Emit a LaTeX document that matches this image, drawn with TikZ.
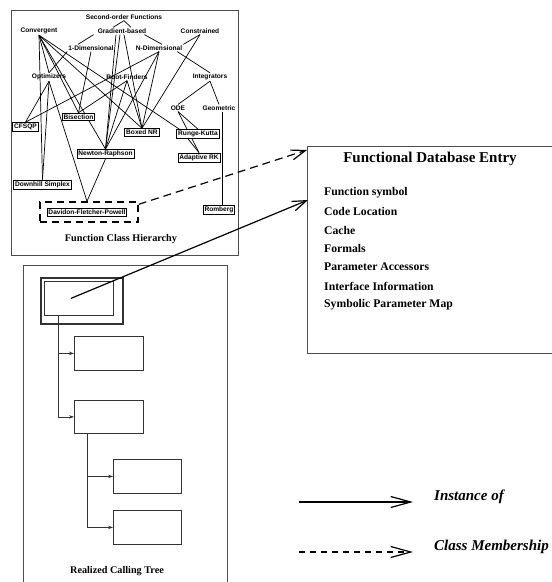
\documentclass[tikz,border=0pt]{standalone}
\usepackage{fontspec}
\setmainfont{Liberation Serif}
\setsansfont{Liberation Sans}
\usetikzlibrary{arrows.meta,calc}
\pgfdeclarelayer{bg}
\pgfsetlayers{bg,main}

\begin{document}
\begin{tikzpicture}[x=1pt,y=-1pt,
  lab/.style={font=\sffamily\bfseries\fontsize{6.6}{7.5}\selectfont, inner sep=1pt},
  leaf/.style={lab, draw=black, fill=white, line width=0.9pt, inner sep=1.4pt},
  edge/.style={line width=0.7pt, black},
  frame/.style={draw=black!70, line width=0.9pt},
  captext/.style={font=\bfseries\fontsize{10.2}{12}\selectfont},
  item/.style={font=\bfseries\fontsize{11.7}{14}\selectfont, anchor=west, inner sep=0pt},
  legendtext/.style={font=\bfseries\itshape\fontsize{15}{18}\selectfont, anchor=west, inner sep=0pt},
  callbox/.style={draw=black!80, line width=0.8pt, anchor=north west, inner sep=0pt},
  treeline/.style={draw=black!80, line width=0.8pt, -{Stealth[length=5pt,width=3.5pt]}},
  inst/.style={line width=1.2pt, -{Straight Barb[length=14pt,width=10pt]}},
  member/.style={line width=1.2pt, dash pattern=on 8pt off 5pt, -{Straight Barb[length=14pt,width=10pt]}},
]
\useasboundingbox (0,0) rectangle (552,582);

% ---------- frames ----------
\draw[frame] (11,10) rectangle (238,255);
\draw[frame] (23,590) -- (23,265) -- (227,265) -- (227,590);

% ---------- function class hierarchy ----------
\node[lab] (so) at (124,17) {Second-order Functions};
\node[lab] (conv) at (39,31) {Convergent};
\node[lab] (grad) at (122,31) {Gradient-based};
\node[lab] (cons) at (200,31) {Constrained};
\node[lab] (oned) at (91,48) {1-Dimensional};
\node[lab] (nd) at (159,48) {N-Dimensional};
\node[lab] (opt) at (49,77) {Optimizers};
\node[lab] (rf) at (127,77) {Root-Finders};
\node[lab] (integ) at (210,77) {Integrators};
\node[lab] (ode) at (178,108) {ODE};
\node[lab] (geo) at (219,108) {Geometric};
\node[leaf] (cfsqp) at (25.5,127) {CFSQP};
\node[leaf] (bis) at (78.5,117) {Bisection};
\node[leaf] (bnr) at (142,132.5) {Boxed NR};
\node[leaf] (rk) at (198,134) {Runge-Kutta};
\node[leaf] (ark) at (199,157.5) {Adaptive RK};
\node[leaf] (nr) at (105.5,154) {Newton-Raphson};
\node[leaf] (dhs) at (42.5,184.5) {Downhill Simplex};
\node[leaf] (dfp) at (87,212.5) {Davidon-Fletcher-Powell};
\node[leaf] (rom) at (219,209.5) {Romberg};
\node[draw=black, line width=1.4pt, dash pattern=on 7pt off 5pt,
      minimum width=98pt, minimum height=20pt, inner sep=0pt] (dfpbox) at (89,212) {};
\node[captext] (fch) at (121,239) {Function Class Hierarchy};

\begin{pgfonlayer}{bg}
  % second-order functions
  \draw[edge] (so.south) -- ($(grad.north)+(-9,0)$);
  \draw[edge] (so.south) -- ($(grad.north)+(9,0)$);
  % convergent
  \draw[edge] (conv.south) -- (opt.north);
  \draw[edge] (conv.south) -- (dhs.north);
  \draw[edge] (conv.south) -- (bis.north);
  \draw[edge] (conv.south) -- (nr.north);
  \draw[edge] (conv.south) -- (bnr.north);
  \draw[edge] (conv.south) -- ($(rk.north west)+(3,0)$);
  % gradient-based
  \draw[edge] ($(grad.south west)+(-3,0)$) -- ($(oned.north)+(-13,0)$);
  \draw[edge] ($(grad.south east)+(-3,0)$) -- ($(nd.north)+(3,0)$);
  \draw[edge] ($(grad.south)+(-6,0)$) -- (nr.north);
  \draw[edge] ($(grad.south)+(-2,0)$) -- (nr.north);
  \draw[edge] ($(grad.south)+(2,0)$) -- (bnr.north);
  % constrained
  \draw[edge] (cons.south) -- (nd.north east);
  \draw[edge] (cons.south) -- (bnr.north);
  % 1-dimensional
  \draw[edge] (oned.south west) -- (opt.north);
  \draw[edge] (oned.south) -- (bis.north);
  % n-dimensional
  \draw[edge] ($(nd.south east)+(-6,0)$) -- (integ.north);
  \draw[edge] (nd.south) -- (cfsqp.north);
  \draw[edge] (nd.south) -- (bnr.north);
  \draw[edge] (nd.south) -- (nr.north);
  % optimizers
  \draw[edge] (opt.south) -- (cfsqp.north);
  \draw[edge] (opt.south) -- (dhs.north);
  \draw[edge] (opt.south) -- (dfpbox.north -| dfp.north);
  % root-finders
  \draw[edge] (rf.south) -- (bis.north);
  \draw[edge] (rf.south) -- (nr.north);
  \draw[edge] (rf.south) -- (bnr.north);
  % integrators
  \draw[edge] (integ.south) -- (ode.north);
  \draw[edge] (integ.south) -- (geo.north);
  \draw[edge] (ode.south) -- (rk.north);
  \draw[edge] (ode.south) -- (ark.north);
  \draw[edge] ($(rk.south)+(-10,0)$) -- (ark.north);
  \draw[edge] ($(geo.south)+(3,0)$) -- ($(rom.north)+(3,0)$);
  % newton-raphson
  \draw[edge] (nr.south) -- (dfpbox.north -| dfp.north);
\end{pgfonlayer}

% ---------- functional database entry ----------
\node[frame, anchor=north west, minimum width=290pt, minimum height=207pt, inner sep=0pt] (fde) at (307,146) {};
\node[font=\bfseries\fontsize{15}{18}\selectfont] (fdetitle) at (430,159) {Functional Database Entry};
\node[item] (i1) at (324,193) {Function symbol};
\node[item] (i2) at (324,211.5) {Code Location};
\node[item] (i3) at (324,230) {Cache};
\node[item] (i4) at (324,248.5) {Formals};
\node[item] (i5) at (324,267) {Parameter Accessors};
\node[item] (i6) at (324,286) {Interface Information};
\node[item] (i7) at (324,305) {Symbolic Parameter Map};

% ---------- realized calling tree ----------
\node[callbox, line width=1.8pt, minimum width=82pt, minimum height=46pt] (t1out) at (40,277) {};
\node[callbox, minimum width=69pt, minimum height=34pt] (t1) at (44,281) {};
\node[callbox, minimum width=69pt, minimum height=34pt] (t2) at (74,336) {};
\node[callbox, minimum width=69pt, minimum height=33pt] (t3) at (74,400) {};
\node[callbox, minimum width=68pt, minimum height=34pt] (t4) at (113,459) {};
\node[callbox, minimum width=68pt, minimum height=34pt] (t5) at (113,510) {};
\node[captext] (rct) at (117,571) {Realized Calling Tree};

\draw[treeline] ($(t1.south west)+(14,0)$) |- (t2.west);
\draw[treeline] ($(t1.south west)+(14,0)$) |- (t3.west);
\draw[treeline] ($(t3.south west)+(13,0)$) |- (t4.west);
\draw[treeline] ($(t3.south west)+(13,0)$) |- (t5.west);

% ---------- instance and membership links ----------
\draw[inst] ($(t1.center)+(-8,0)$) -- ($(fde.north west)+(1,54)$);
\draw[member] ($(dfpbox.north east)+(0,3)$) -- ($(fde.north west)+(0,4)$);

% ---------- legend ----------
\coordinate (la) at (299,502);
\coordinate (lb) at (413,502);
\coordinate (lc) at (299,552);
\coordinate (ld) at (413,552);
\draw[line width=1.2pt, -{Straight Barb[length=20pt,width=11pt]}] (la) -- (lb);
\draw[line width=1.2pt, dash pattern=on 6pt off 5pt, -{Straight Barb[length=20pt,width=11pt]}] (lc) -- (ld);
\node[legendtext] (linst) at (434,497) {Instance of};
\node[legendtext] (lmem) at (434,547) {Class Membership};
\end{tikzpicture}
\end{document}
